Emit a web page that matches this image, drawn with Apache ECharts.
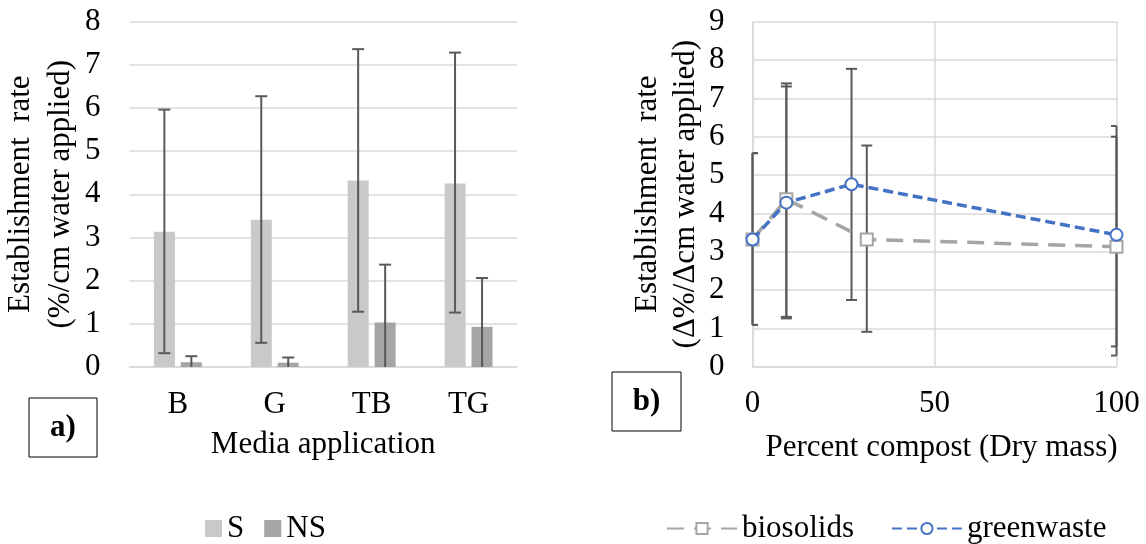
<!DOCTYPE html>
<html>
<head>
<meta charset="utf-8">
<script src="https://cdn.jsdelivr.net/npm/echarts@6/dist/echarts.min.js"></script>
<style>
  html, body { margin: 0; padding: 0; background: #fff; }
  #chart { width: 1146px; height: 544px; }
</style>
</head>
<body>
<div id="chart"></div>
<script>
// panel a) bars
var categories = ['B', 'G', 'TB', 'TG'];
var sMean = [3.13, 3.41, 4.32, 4.25];
var sLow = [0.32, 0.56, 1.28, 1.26];
var sHigh = [5.96, 6.27, 7.36, 7.28];
var nsMean = [0.11, 0.1, 1.03, 0.93];
var nsLow = [-0.03, -0.02, -0.31, -0.2];
var nsHigh = [0.25, 0.22, 2.37, 2.06];

// panel b) lines
var bioX = [0, 9.3, 31.4, 100];
var bioY = [3.32, 4.37, 3.32, 3.13];
var bioLow = [1.09, 1.3, 0.91, 0.29];
var bioHigh = [5.57, 7.39, 5.77, 6.0];
var gwX = [0, 9.3, 27.2, 100];
var gwY = [3.32, 4.28, 4.76, 3.44];
var gwLow = [1.09, 1.26, 1.74, 0.53];
var gwHigh = [5.57, 7.31, 7.77, 6.28];

var font = 'Liberation Serif';
var gridColor = '#d9d9d9';
var errColor = '#595959';

function pairs(xs, ys) {
    return xs.map(function (x, i) { return [x, ys[i]]; });
}
function triples(xs, lo, hi) {
    return xs.map(function (x, i) { return [x, lo[i], hi[i]]; });
}

// error bar drawn with the axis scales, clamped to the plot rect
function errorBars(offset, cap) {
    return function (params, api) {
        var cs = params.coordSys;
        var x = api.value(0);
        var pLo = api.coord([x, api.value(1)]);
        var pHi = api.coord([x, api.value(2)]);
        var px = pLo[0] + offset;
        var yTop = Math.max(pHi[1], cs.y);
        var yBot = Math.min(pLo[1], cs.y + cs.height);
        var xl = Math.max(px - cap, cs.x);
        var xr = Math.min(px + cap, cs.x + cs.width);
        var st = { stroke: errColor, lineWidth: 2 };
        var kids = [{ type: 'line', shape: { x1: px, y1: yTop, x2: px, y2: yBot }, style: st }];
        if (pHi[1] >= cs.y) kids.push({ type: 'line', shape: { x1: xl, y1: yTop, x2: xr, y2: yTop }, style: st });
        if (pLo[1] <= cs.y + cs.height) kids.push({ type: 'line', shape: { x1: xl, y1: yBot, x2: xr, y2: yBot }, style: st });
        return { type: 'group', children: kids };
    };
}

var axisText = { fontFamily: font, fontSize: 31, color: '#000' };

option = {
    animation: false,
    textStyle: { fontFamily: font },
    grid: [
        { left: 128, top: 21.5, width: 389, height: 345.5 },
        { left: 752.5, top: 21.7, width: 364, height: 345 }
    ],
    legend: [
        {
            data: ['S', 'NS'],
            left: 200, top: 508,
            icon: 'rect', itemWidth: 17, itemHeight: 17, itemGap: 20,
            textStyle: axisText
        },
        {
            data: ['biosolids', 'greenwaste'],
            left: 661, top: 508,
            itemWidth: 70, itemHeight: 14, itemGap: 37,
            textStyle: axisText
        }
    ],
    xAxis: [
        {
            type: 'category', gridIndex: 0, data: categories,
            axisLine: { lineStyle: { color: gridColor, width: 1.5 } },
            axisTick: { show: false },
            axisLabel: Object.assign({ margin: 22 }, axisText),
            name: 'Media application', nameLocation: 'middle', nameGap: 62,
            nameTextStyle: axisText
        },
        {
            type: 'value', gridIndex: 1, min: 0, max: 100, interval: 50,
            axisLine: { show: true, lineStyle: { color: gridColor, width: 1.5 } },
            axisTick: { show: false },
            splitLine: { show: true, lineStyle: { color: gridColor, width: 1.5 } },
            axisLabel: Object.assign({ margin: 22 }, axisText),
            name: 'Percent compost (Dry mass)', nameLocation: 'middle', nameGap: 66,
            nameTextStyle: Object.assign({ padding: [0, 0, 0, 14] }, axisText)
        }
    ],
    yAxis: [
        {
            type: 'value', gridIndex: 0, min: 0, max: 8, interval: 1,
            axisLine: { show: false }, axisTick: { show: false },
            splitLine: { lineStyle: { color: gridColor, width: 1.5 } },
            axisLabel: Object.assign({ margin: 29 }, axisText),
            name: 'Establishment  rate\n(%/cm water applied)',
            nameLocation: 'middle', nameGap: 46,
            nameTextStyle: Object.assign({ lineHeight: 40 }, axisText)
        },
        {
            type: 'value', gridIndex: 1, min: 0, max: 9, interval: 1,
            axisLine: { show: true, lineStyle: { color: gridColor, width: 1.5 } },
            axisTick: { show: false },
            splitLine: { lineStyle: { color: gridColor, width: 1.5 } },
            axisLabel: Object.assign({ margin: 28 }, axisText),
            name: 'Establishment  rate\n(\u0394%/\u0394cm water applied)',
            nameLocation: 'middle', nameGap: 46,
            nameTextStyle: Object.assign({ lineHeight: 38 }, axisText)
        }
    ],
    graphic: [
        { type: 'rect', shape: { x: 29, y: 398, width: 68, height: 59 }, style: { fill: '#fff', stroke: '#000', lineWidth: 1 } },
        { type: 'text', style: { text: 'a)', x: 63, y: 428, align: 'center', verticalAlign: 'middle', fontSize: 31, fontWeight: 'bold', fontFamily: font, fill: '#000' } },
        { type: 'rect', shape: { x: 612, y: 372, width: 69, height: 59 }, style: { fill: '#fff', stroke: '#000', lineWidth: 1 } },
        { type: 'text', style: { text: 'b)', x: 646.5, y: 402, align: 'center', verticalAlign: 'middle', fontSize: 31, fontWeight: 'bold', fontFamily: font, fill: '#000' } }
    ],
    series: [
        {
            name: 'S', type: 'bar', xAxisIndex: 0, yAxisIndex: 0,
            data: sMean, barWidth: 21, barGap: '28%',
            itemStyle: { color: '#c9c9c9' }
        },
        {
            name: 'NS', type: 'bar', xAxisIndex: 0, yAxisIndex: 0,
            data: nsMean, barWidth: 21, barGap: '28%',
            itemStyle: { color: '#a5a5a5' }
        },
        {
            type: 'custom', xAxisIndex: 0, yAxisIndex: 0, z: 5,
            renderItem: errorBars(-13.5, 6),
            data: triples([0, 1, 2, 3], sLow, sHigh)
        },
        {
            type: 'custom', xAxisIndex: 0, yAxisIndex: 0, z: 5,
            renderItem: errorBars(13.5, 6),
            data: triples([0, 1, 2, 3], nsLow, nsHigh)
        },
        {
            type: 'custom', xAxisIndex: 1, yAxisIndex: 1, z: 1,
            renderItem: errorBars(0, 5.5),
            data: triples(bioX, bioLow, bioHigh)
        },
        {
            type: 'custom', xAxisIndex: 1, yAxisIndex: 1, z: 1,
            renderItem: errorBars(0, 5.5),
            data: triples(gwX, gwLow, gwHigh)
        },
        {
            name: 'biosolids', type: 'line', xAxisIndex: 1, yAxisIndex: 1, z: 3,
            data: pairs(bioX, bioY),
            symbol: 'rect', symbolSize: 12,
            lineStyle: { color: '#a5a5a5', width: 3.5, type: [17, 10] },
            itemStyle: { color: '#fff', borderColor: '#a5a5a5', borderWidth: 2 }
        },
        {
            name: 'greenwaste', type: 'line', xAxisIndex: 1, yAxisIndex: 1, z: 4,
            data: pairs(gwX, gwY),
            symbol: 'emptyCircle', symbolSize: 12,
            lineStyle: { color: '#4472c4', width: 3.5, type: [10, 5] },
            itemStyle: { color: '#4472c4', borderColor: '#4472c4', borderWidth: 2 }
        }
    ]
};

var myChart = echarts.init(document.getElementById('chart'));
myChart.setOption(option);
window.addEventListener('resize', function () {
    myChart.resize();
});
</script>
</body>
</html>
